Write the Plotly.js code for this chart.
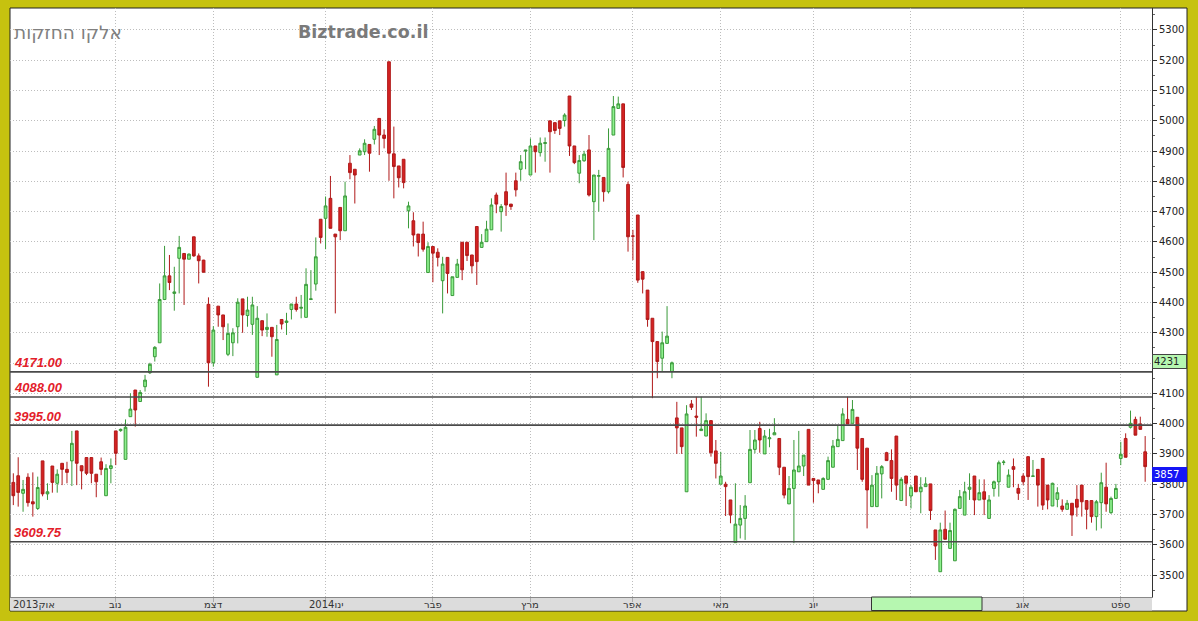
<!DOCTYPE html>
<html><head><meta charset="utf-8">
<script src="https://cdn.plot.ly/plotly-3.0.1.min.js"></script>
<style>html,body{margin:0;padding:0;background:#c6c20f;overflow:hidden}#chart{width:1198px;height:621px}</style>
</head><body><div id="chart"></div>
<script>
const openP = [3806,3828,3770,3823,3742,3720,3877,3768,3860,3803,
 3869,3849,3877,3976,3861,3888,3888,3833,3874,3762,
 3852,3976,3977,3882,4023,4111,4073,4122,4168,4221,
 4267,4410,4488,4430,4546,4562,4543,4617,4554,4540,
 4394,4201,4388,4359,4229,4267,4320,4412,4357,4328,
 4153,4340,4311,4318,4161,4344,4334,4377,4395,4381,
 4351,4410,4461,4675,4678,4744,4626,4714,4637,4860,
 4840,4887,4898,4922,4939,5008,4953,5195,4891,4851,
 4873,4703,4670,4626,4626,4499,4585,4566,4472,4549,
 4423,4483,4599,4599,4557,4651,4582,4601,4640,4755,
 4700,4766,4725,4802,4840,4900,4821,4917,4895,4925,
 5000,4994,5000,5001,5082,4917,4827,4868,4904,4733,
 4817,4813,4766,4953,5041,5056,4790,4620,4689,4502,
 4441,4348,4271,4216,4265,4172,4019,3986,3775,4065,
 4025,3977,3959,4010,3910,3800,3800,3748,3607,3665,
 3687,3805,3915,3984,3900,3950,3963,3951,3856,3735,
 3786,3841,3860,3981,3819,3814,3783,3816,3856,3924,
 3944,4014,4001,4021,3951,3919,3726,3726,3834,3904,
 3878,3959,3746,3827,3761,3827,3775,3792,3801,3649,
 3511,3651,3588,3547,3720,3698,3783,3827,3748,3775,
 3687,3786,3808,3872,3790,3858,3786,3827,3891,3826,
 3849,3885,3797,3728,3750,3728,3717,3737,3750,3797,
 3746,3746,3693,3739,3790,3706,3753,3885,3951,3988,
 4014,3999,3907];
const highP = [3836,3889,3814,3836,3839,3825,3877,3803,3860,3849,
 3869,3874,3976,3976,3861,3888,3888,3833,3888,3866,
 3885,3976,3984,4014,4100,4111,4111,4161,4201,4256,
 4463,4587,4557,4518,4620,4562,4562,4617,4562,4541,
 4417,4322,4388,4359,4331,4315,4414,4412,4419,4419,
 4388,4340,4364,4318,4326,4344,4366,4395,4419,4425,
 4513,4507,4615,4675,4750,4818,4626,4714,4799,4887,
 4840,4909,4939,4922,4983,5008,4972,5195,4981,4851,
 4873,4733,4698,4626,4667,4599,4585,4579,4551,4549,
 4485,4544,4599,4599,4557,4651,4626,4670,4744,4763,
 4725,4829,4725,4829,4887,4904,4942,4917,4945,4945,
 5000,4994,5000,5025,5082,4917,4887,4901,4953,4821,
 4838,4813,4975,5082,5080,5056,4799,4640,4689,4502,
 4441,4348,4271,4304,4388,4205,4072,3986,4061,4078,
 4089,4089,4034,4010,3946,3907,3808,3748,3803,3731,
 3764,3979,3979,4006,3979,3983,4018,3951,3856,3827,
 3946,3976,3896,3981,3819,3814,3823,3891,3946,3995,
 4051,4089,4078,4021,3951,3919,3830,3860,3863,3907,
 3915,3959,3823,3827,3797,3827,3823,3823,3801,3649,
 3673,3713,3673,3720,3781,3808,3836,3827,3816,3816,
 3764,3812,3878,3880,3849,3885,3801,3836,3891,3880,
 3849,3885,3797,3805,3790,3750,3748,3737,3797,3797,
 3746,3746,3748,3838,3871,3759,3801,3940,3968,4043,
 4023,4023,3959];
const lowP = [3731,3726,3709,3726,3693,3715,3760,3748,3772,3772,
 3797,3803,3794,3797,3783,3830,3803,3757,3830,3762,
 3803,3863,3973,3882,4023,3990,4073,4106,4164,4205,
 4267,4408,4441,4373,4430,4392,4543,4551,4463,4499,
 4122,4188,4320,4276,4223,4223,4265,4300,4320,4293,
 4153,4289,4287,4221,4161,4311,4293,4344,4370,4348,
 4351,4408,4439,4595,4576,4645,4364,4606,4637,4807,
 4727,4887,4887,4832,4922,4887,4909,4802,4744,4780,
 4777,4645,4585,4552,4568,4499,4467,4519,4364,4430,
 4423,4483,4474,4537,4496,4458,4582,4601,4640,4695,
 4634,4686,4706,4750,4802,4840,4821,4829,4882,4865,
 4829,4957,4953,4981,4884,4857,4794,4865,4750,4606,
 4700,4733,4760,4953,5041,4813,4568,4540,4465,4430,
 4320,4084,4150,4172,4265,4150,3900,3900,3775,4045,
 3957,3977,3959,3891,3819,3800,3695,3671,3607,3621,
 3616,3805,3902,3904,3900,3922,3963,3830,3753,3735,
 3605,3841,3827,3797,3739,3770,3783,3816,3856,3924,
 3944,3999,4001,3847,3808,3654,3726,3726,3753,3878,
 3775,3748,3746,3728,3720,3775,3704,3792,3682,3550,
 3511,3618,3588,3547,3720,3698,3748,3698,3748,3698,
 3687,3759,3759,3863,3790,3790,3748,3797,3748,3825,
 3726,3715,3717,3728,3724,3709,3717,3629,3693,3693,
 3651,3673,3647,3654,3709,3702,3753,3863,3889,3984,
 3962,3981,3808];
const closeP = [3762,3773,3783,3739,3735,3789,3768,3775,3806,3833,
 3849,3839,3935,3869,3844,3836,3836,3808,3849,3852,
 3861,3902,3981,3988,4048,4045,4103,4144,4196,4252,
 4410,4488,4466,4435,4582,4543,4560,4554,4538,4500,
 4201,4309,4359,4320,4298,4300,4401,4359,4375,4392,
 4348,4309,4318,4287,4278,4329,4339,4395,4377,4384,
 4460,4412,4551,4615,4719,4645,4617,4637,4752,4829,
 4821,4901,4926,4893,4972,4953,4942,4893,4849,4812,
 4796,4719,4623,4598,4576,4585,4563,4549,4527,4496,
 4485,4527,4508,4555,4521,4535,4599,4642,4722,4725,
 4717,4722,4717,4772,4865,4903,4917,4898,4926,4928,
 4964,4968,4975,5019,4917,4862,4869,4890,4755,4821,
 4819,4766,4909,5047,5056,4846,4617,4619,4474,4477,
 4344,4271,4205,4267,4289,4201,3986,3924,4032,4054,
 4021,3982,4010,3904,3869,3827,3792,3698,3668,3687,
 3728,3915,3946,3946,3959,3953,3970,3856,3764,3786,
 3847,3860,3896,3797,3812,3801,3819,3878,3926,3948,
 4032,3999,4047,3919,3816,3781,3797,3836,3858,3878,
 3819,3797,3816,3803,3790,3775,3790,3801,3713,3596,
 3649,3618,3647,3717,3759,3775,3790,3748,3772,3750,
 3748,3808,3871,3873,3830,3849,3770,3808,3825,3827,
 3797,3731,3748,3803,3772,3717,3737,3698,3724,3742,
 3717,3693,3742,3805,3735,3753,3786,3899,3889,4001,
 3962,3981,3858];

const monthIdx = [21, 41, 64, 86, 106, 127, 145, 164, 184, 207, 227];
// July label sits under the highlighted date box, as in the source
const monthLabels = ['נוב','דצמ','2014ינו','פבר','מרץ','אפר','מאי','יונ','','אוג','ספט'];
const firstMonthLabel = '2013אוק';
const yTickVals = [3500,3600,3700,3800,3900,4000,4100,4200,4300,4400,4500,4600,4700,4800,4900,5000,5100,5200,5300];
const yTickText = ['3500','3600','3700','3800','3900','4000','4100','','4300','4400','4500','4600','4700','4800','4900','5000','5100','5200','5300'];
const levels = [4171, 4088, 3995, 3609.75];
const levelLabels = ['4171.00','4088.00','3995.00','3609.75'];
const cursorPrice = 4231;
const lastPrice = 3857;
const stockName = 'אלקו החזקות';
const siteName = 'Biztrade.co.il';

const xIdx = openP.map((_, i) => i);

const W = 1198, H = 621, L = 10, R = 46, T = 8, B = 24;
const pw = W - L - R, ph = H - T - B;
const px = v => (v - L) / pw;
const py = v => (H - B - v) / ph;

const trace = {
  type: 'candlestick',
  x: xIdx, open: openP, high: highP, low: lowP, close: closeP,
  increasing: {line: {color: '#3a9a3a', width: 1}, fillcolor: '#8ef08e'},
  decreasing: {line: {color: '#b01a1a', width: 1}, fillcolor: '#d42222'},
  whiskerwidth: 0,
  hoverinfo: 'skip',
  showlegend: false
};

const shapes = [
  {type:'rect', xref:'paper', yref:'paper', x0:0, x1:px(1187), y0:py(611), y1:1,
   fillcolor:'#ffffff', line:{color:'#222', width:1}, layer:'below'},
  {type:'rect', xref:'paper', yref:'paper', x0:0, x1:1, y0:py(610.5), y1:0,
   fillcolor:'#dcdcdc', line:{width:0}, layer:'below'}
];
levels.forEach(v => shapes.push({type:'line', xref:'paper', yref:'y', x0:0, x1:1, y0:v, y1:v,
  line:{color:'#4a4a4a', width:1.6}, layer:'above'}));
shapes.push({type:'rect', xref:'paper', yref:'paper', x0:px(871.5), x1:px(982), y0:py(610.5), y1:0,
  fillcolor:'#b6f7b0', line:{color:'#333', width:1}, layer:'above'});

const annotations = [];
levels.forEach((v, i) => annotations.push({
  xref:'paper', yref:'y', x:px(12), y:v, xanchor:'left', yanchor:'middle', yshift:9,
  text:levelLabels[i], showarrow:false,
  font:{family:'Liberation Sans, Arial, sans-serif', size:13, color:'#e3202a', weight:'bold', style:'italic'}
}));
annotations.push({xref:'paper', yref:'y', x:1, y:cursorPrice, xanchor:'left', yanchor:'top',
  text:String(cursorPrice), showarrow:false, bgcolor:'#b6f7b0', bordercolor:'#444', borderwidth:1,
  borderpad:1, width:31, align:'left', font:{family:'DejaVu Sans', size:10, color:'#222'}});
annotations.push({xref:'paper', yref:'y', x:1, y:lastPrice, xanchor:'left', yanchor:'top',
  text:String(lastPrice), showarrow:false, bgcolor:'#1616f5', bordercolor:'#1616f5', borderwidth:1,
  borderpad:1, width:31, align:'left', font:{family:'DejaVu Sans', size:10, color:'#ffffff'}});
annotations.push({xref:'paper', yref:'paper', x:px(12), y:py(32), xanchor:'left', yanchor:'middle',
  text:stockName, showarrow:false, font:{family:'DejaVu Sans', size:18.5, color:'#808080'}});
annotations.push({xref:'paper', yref:'paper', x:px(296), y:py(32), xanchor:'left', yanchor:'middle',
  text:siteName, showarrow:false, font:{family:'DejaVu Sans', size:17.5, color:'#7a7a7a', weight:'bold'}});
annotations.push({xref:'paper', yref:'paper', x:px(11), y:py(604), xanchor:'left', yanchor:'middle',
  text:firstMonthLabel, showarrow:false, font:{family:'DejaVu Sans', size:10, color:'#333'}});
monthIdx.forEach((m, i) => {
  if (!monthLabels[i]) return;
  annotations.push({xref:'x', yref:'paper', x:m, y:py(604), xanchor:'center', yanchor:'middle',
    text:monthLabels[i], showarrow:false, font:{family:'DejaVu Sans', size:10, color:'#333'}});
});

const layout = {
  width: W, height: H,
  margin: {l:L, r:R, t:T, b:B, pad:0},
  paper_bgcolor: '#c6c20f',
  plot_bgcolor: '#ffffff',
  showlegend: false,
  dragmode: false,
  boxgap: 0.2,
  xaxis: {
    type:'linear', range:[-0.68, 233.4], rangeslider:{visible:false},
    tickmode:'array', tickvals: monthIdx, showticklabels:false,
    showgrid:true, gridcolor:'#bdbdbd', griddash:'1px,2px', gridwidth:1,
    zeroline:false, showline:true, linecolor:'#888', linewidth:1,
    ticks:'outside', ticklen:4, tickcolor:'#aaa'
  },
  yaxis: {
    side:'right', range:[3427.5, 5372.6],
    tickmode:'array', tickvals: yTickVals, ticktext: yTickText,
    showgrid:true, gridcolor:'#bdbdbd', griddash:'1px,2px', gridwidth:1,
    zeroline:false, showline:true, linecolor:'#333', linewidth:1,
    ticks:'outside', ticklen:4, tickcolor:'#333',
    minor:{dtick:50, tick0:0, ticklen:2, tickcolor:'#666', showgrid:false},
    tickfont:{family:'DejaVu Sans', size:10, color:'#222'}
  },
  shapes: shapes,
  annotations: annotations
};

Plotly.newPlot('chart', [trace], layout, {staticPlot:true, displayModeBar:false});
</script>
</body></html>
